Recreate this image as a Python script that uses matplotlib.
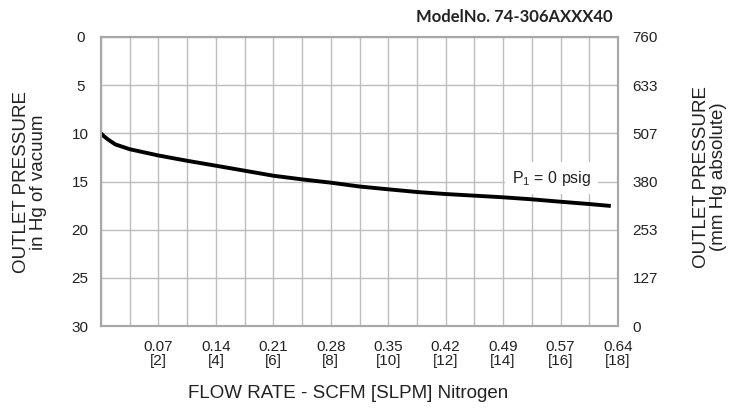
import matplotlib.pyplot as plt

#Fontes parecidas com Arial
plt.rcParams['font.family'] = ['Liberation Sans', 'DejaVu Sans']
plt.rcParams['mathtext.fontset'] = 'custom'
plt.rcParams['mathtext.rm'] = 'Liberation Sans'

#Dados (vazão em SLPM x pressão em in Hg de vácuo)
vazao_slpm = [0, 0.1, 0.25, 0.5, 1, 2, 3, 4, 5, 6, 7, 8, 9, 10, 11, 12, 13, 14, 15, 16, 17, 17.75]
vacuo_inhg = [10.0, 10.3, 10.65, 11.15, 11.65, 12.3, 12.85, 13.36, 13.88, 14.4, 14.78, 15.12,
              15.52, 15.81, 16.09, 16.3, 16.47, 16.64, 16.85, 17.1, 17.34, 17.54]

#Rótulos dos eixos
ticks_slpm = [2, 4, 6, 8, 10, 12, 14, 16, 18]
ticks_scfm = ["0.07", "0.14", "0.21", "0.28", "0.35", "0.42", "0.49", "0.57", "0.64"]
ticks_inhg = [0, 5, 10, 15, 20, 25, 30]
ticks_mmhg = ["760", "633", "507", "380", "253", "127", "0"]

cor_texto = "#222222"
cor_grade = "#bdbdbd"
cor_borda = "#a8a8a8"

fig = plt.figure(figsize=(7.47, 4.09), dpi=100)
ax = fig.add_axes([101 / 747, 83 / 409, 517 / 747, 289 / 409])

#Curva principal
ax.plot(vazao_slpm, vacuo_inhg, color="black", linewidth=2.8, zorder=4,
        solid_capstyle="butt")

ax.set_xlim(0, 18)
ax.set_ylim(30, 0)

#Grade
ax.set_xticks(range(0, 19), minor=True)
ax.set_xticks(ticks_slpm, [f"{s}\n[{n}]" for s, n in zip(ticks_scfm, ticks_slpm)])
ax.set_yticks(ticks_inhg)
ax.grid(True, which="both", axis="x", color=cor_grade, linewidth=1.0, zorder=0)
ax.grid(True, which="major", axis="y", color=cor_grade, linewidth=1.0, zorder=0)
ax.set_axisbelow(True)

ax.tick_params(axis="both", which="both", length=0, labelsize=11, colors=cor_texto)
ax.tick_params(axis="x", pad=10)
ax.tick_params(axis="y", pad=15)
for lbl in ax.get_xticklabels():
    lbl.set_linespacing(1.05)
for lbl in ax.get_yticklabels():
    lbl.set_ha("center")

#Eixo da direita em mm Hg absoluto
ax2 = ax.twinx()
ax2.set_ylim(30, 0)
ax2.set_yticks(ticks_inhg, ticks_mmhg)
ax2.tick_params(axis="y", length=0, labelsize=11, colors=cor_texto, pad=10.5)

for a in (ax, ax2):
    for sp in a.spines.values():
        sp.set_color(cor_borda)
        sp.set_linewidth(1.5)

#Anotação da curva
ax.text(15.7, 14.65, r"P$_{\rm 1}$ = 0 psig", fontsize=11.5, color=cor_texto,
        ha="center", va="center", zorder=3,
        bbox=dict(facecolor="white", edgecolor="none", pad=5))

#Títulos e rótulos
fig.text(613 / 747, 1 - 17 / 409, "ModelNo. 74-306AXXX40", fontsize=12,
         fontweight="bold", family="Lato", ha="right", va="center", color=cor_texto)
fig.text(348 / 747, 1 - 394 / 409, "FLOW RATE - SCFM [SLPM] Nitrogen", fontsize=13.5,
         ha="center", va="center", color=cor_texto)
fig.text(30 / 747, 1 - 182 / 409, "OUTLET PRESSURE\nin Hg of vacuum", fontsize=13.5,
         rotation=90, ha="center", va="center", multialignment="center",
         linespacing=1.0, color=cor_texto)
fig.text(710 / 747, 1 - 177 / 409, "OUTLET PRESSURE\n(mm Hg absolute)", fontsize=13.5,
         rotation=90, ha="center", va="center", multialignment="center",
         linespacing=1.0, color=cor_texto)

plt.savefig("out.png", dpi=100)
